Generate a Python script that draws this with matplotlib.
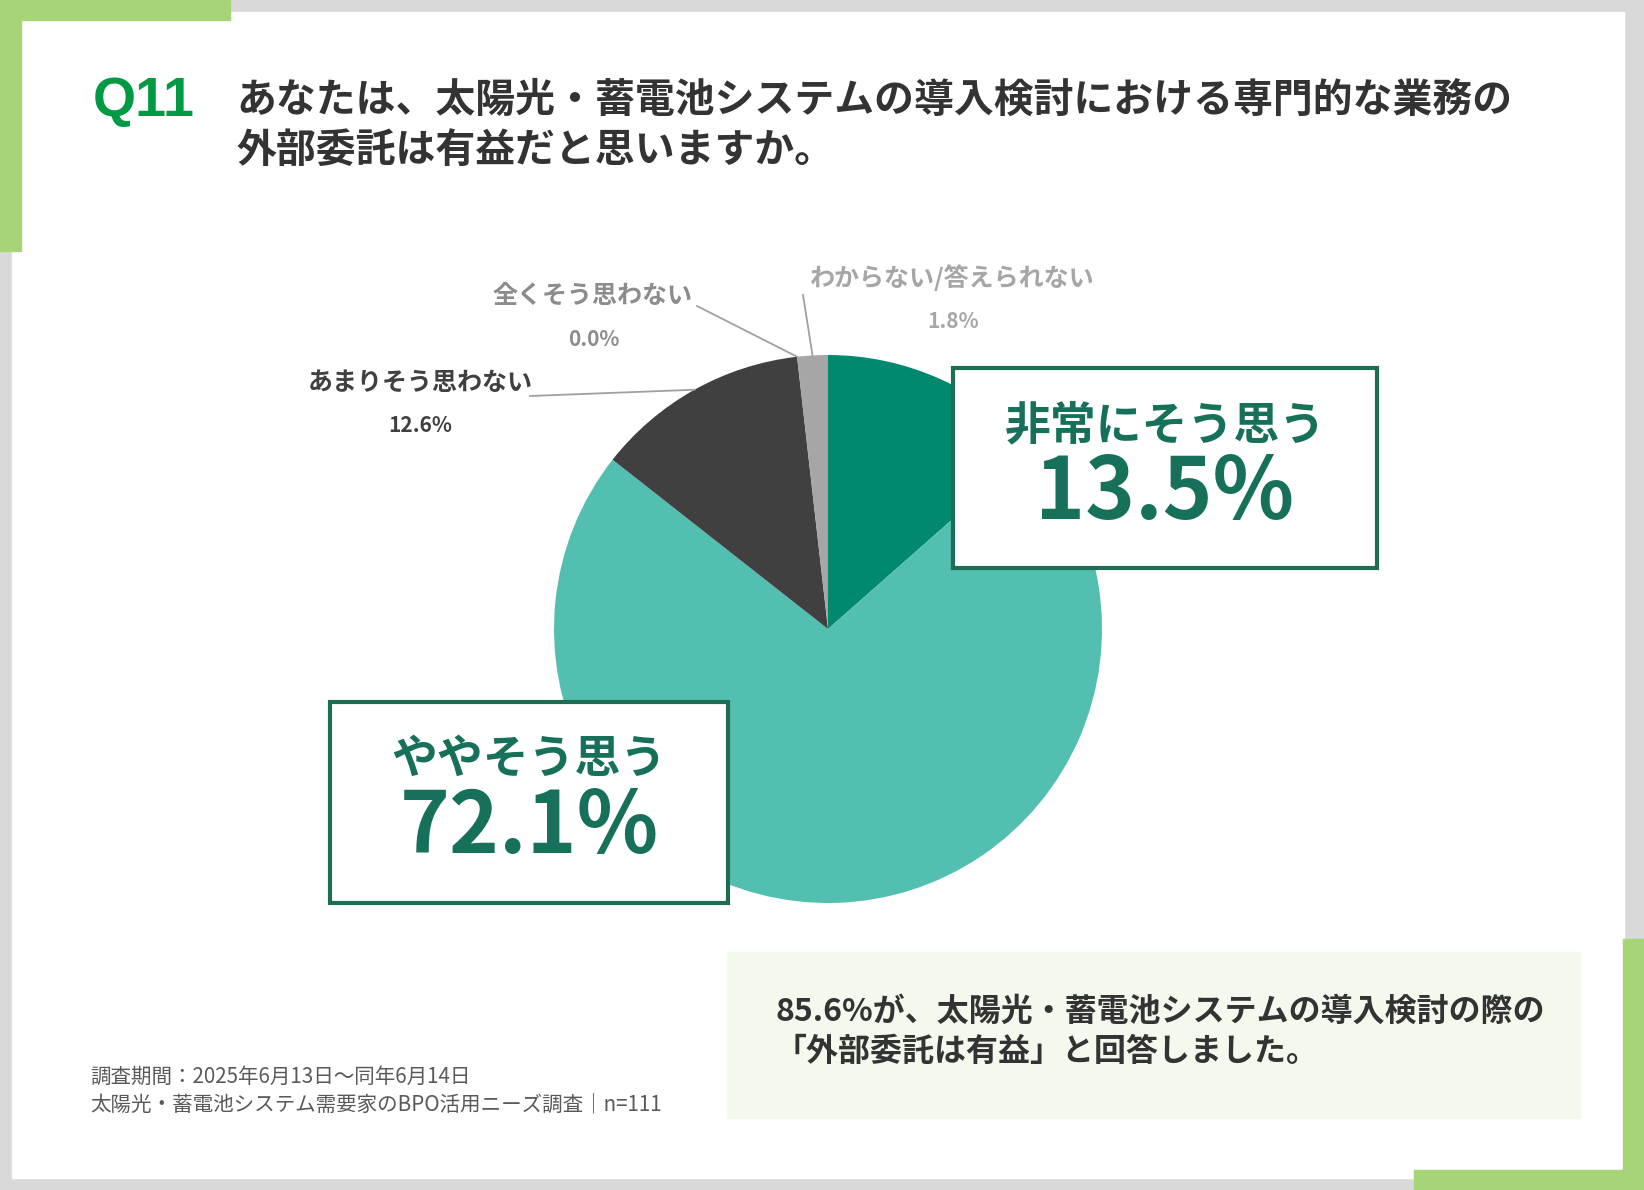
import numpy as np
import matplotlib
matplotlib.use("Agg")
import matplotlib.pyplot as plt
from matplotlib.patches import Rectangle

plt.rcParams['font.family'] = ['Noto Sans CJK JP', 'DejaVu Sans']

# data
labels = ["非常にそう思う", "ややそう思う", "あまりそう思わない", "全くそう思わない", "わからない/答えられない"]
values = [13.5, 72.1, 12.6, 0.0, 1.8]
colors = ["#00896f", "#52bfb0", "#404040", "#7f7f7f", "#a6a6a6"]

title_q = "Q11"
title_lines = ["あなたは、太陽光・蓄電池システムの導入検討における専門的な業務の",
               "外部委託は有益だと思いますか。"]
summary_lines = ["85.6%が、太陽光・蓄電池システムの導入検討の際の",
                 "「外部委託は有益」と回答しました。"]
note_lines = ["調査期間：2025年6月13日～同年6月14日",
              "太陽光・蓄電池システム需要家のBPO活用ニーズ調査｜n=111"]

W, H = 1644, 1190
fig = plt.figure(figsize=(W / 100, H / 100), dpi=100)


def px_axes(z):
    ax = fig.add_axes([0, 0, 1, 1], zorder=z)
    ax.set_xlim(0, W)
    ax.set_ylim(H, 0)
    ax.axis('off')
    ax.patch.set_alpha(0)
    return ax


# background frame
bg = px_axes(0)
green = "#a6d477"
bg.add_patch(Rectangle((0, 0), W, H, color="#d9d9d9"))
bg.add_patch(Rectangle((12, 12), 1612, 1166, color="white"))
bg.add_patch(Rectangle((0, 0), 230, 20, color=green))
bg.add_patch(Rectangle((0, 0), 21, 251, color=green))
bg.add_patch(Rectangle((1623, 939), 21, 251, color=green))
bg.add_patch(Rectangle((1414, 1170), 230, 20, color=green))
bg.add_patch(Rectangle((727, 952), 853, 166, color="#f4f9ee"))

# pie
cx, cy, r = 828, 629, 274
pax = fig.add_axes([(cx - r) / W, (H - cy - r) / H, 2 * r / W, 2 * r / H], zorder=1)
wedges, _ = pax.pie(values, colors=colors, startangle=90, counterclock=False,
                    wedgeprops=dict(linewidth=0))
pax.set_xlim(-1, 1)
pax.set_ylim(-1, 1)
pax.set_aspect('equal')

fg = px_axes(2)

# title
fg.text(93, 102, title_q, fontsize=40, fontweight='bold', color="#009944",
        family=['Liberation Sans', 'DejaVu Sans'], va='center', ha='left')
for i, line in enumerate(title_lines):
    fg.text(236, 100 + i * 50, line, fontsize=28.7, fontweight='bold', color="#333333",
            va='center', ha='left')


def edge_point(idx, frac):
    # point on the pie rim inside wedge idx
    start = sum(values[:idx])
    a = np.deg2rad(90 - (start + values[idx] * frac) / 100 * 360)
    return cx + r * np.cos(a), cy - r * np.sin(a)


# small outside labels with leader lines
small = [
    (2, (420, 383), (420, 426), "#404040", (530, 396), 0.5),
    (3, (593, 296), (594, 339), "#8c8c8c", (697, 306), 0.5),
    (4, (952, 278), (953, 322), "#a6a6a6", (803, 295), 0.5),
]
for idx, (lx, ly), (vx, vy), col, (sx, sy), frac in small:
    fg.text(lx, ly, labels[idx], fontsize=18, fontweight='bold', color=col,
            ha='center', va='center')
    fg.text(vx, vy, f"{values[idx]:.1f}%", fontsize=15, fontweight='bold', color=col,
            ha='center', va='center')
    ex, ey = edge_point(idx, frac)
    fg.plot([sx, ex], [sy, ey], color="#a0a0a0", lw=1.3)

# big boxed labels
box_edge = "#1e6e56"
box_text = "#16705a"
boxes = [
    (0, (953, 368, 424, 200)),
    (1, (330, 702, 398, 201)),
]
for idx, (bx, by, bw, bh) in boxes:
    fg.add_patch(Rectangle((bx, by), bw, bh, facecolor="white", edgecolor=box_edge, lw=3))
    mx = bx + bw / 2
    fg.text(mx, by + 58, labels[idx], fontsize=33, fontweight='bold', color=box_text,
            ha='center', va='center')
    fg.text(mx, by + 126, f"{values[idx]:.1f}%", fontsize=61, fontweight='bold',
            color=box_text, ha='center', va='center')

# summary
for i, line in enumerate(summary_lines):
    fg.text(775, 1012 + i * 40, line, fontsize=23, fontweight='bold',
            color="#333333", ha='left', va='center')

# notes
for i, line in enumerate(note_lines):
    fg.text(90, 1077 + i * 27, line, fontsize=14.8, color="#595959", ha='left', va='center')

fig.savefig("out.png", dpi=100)
